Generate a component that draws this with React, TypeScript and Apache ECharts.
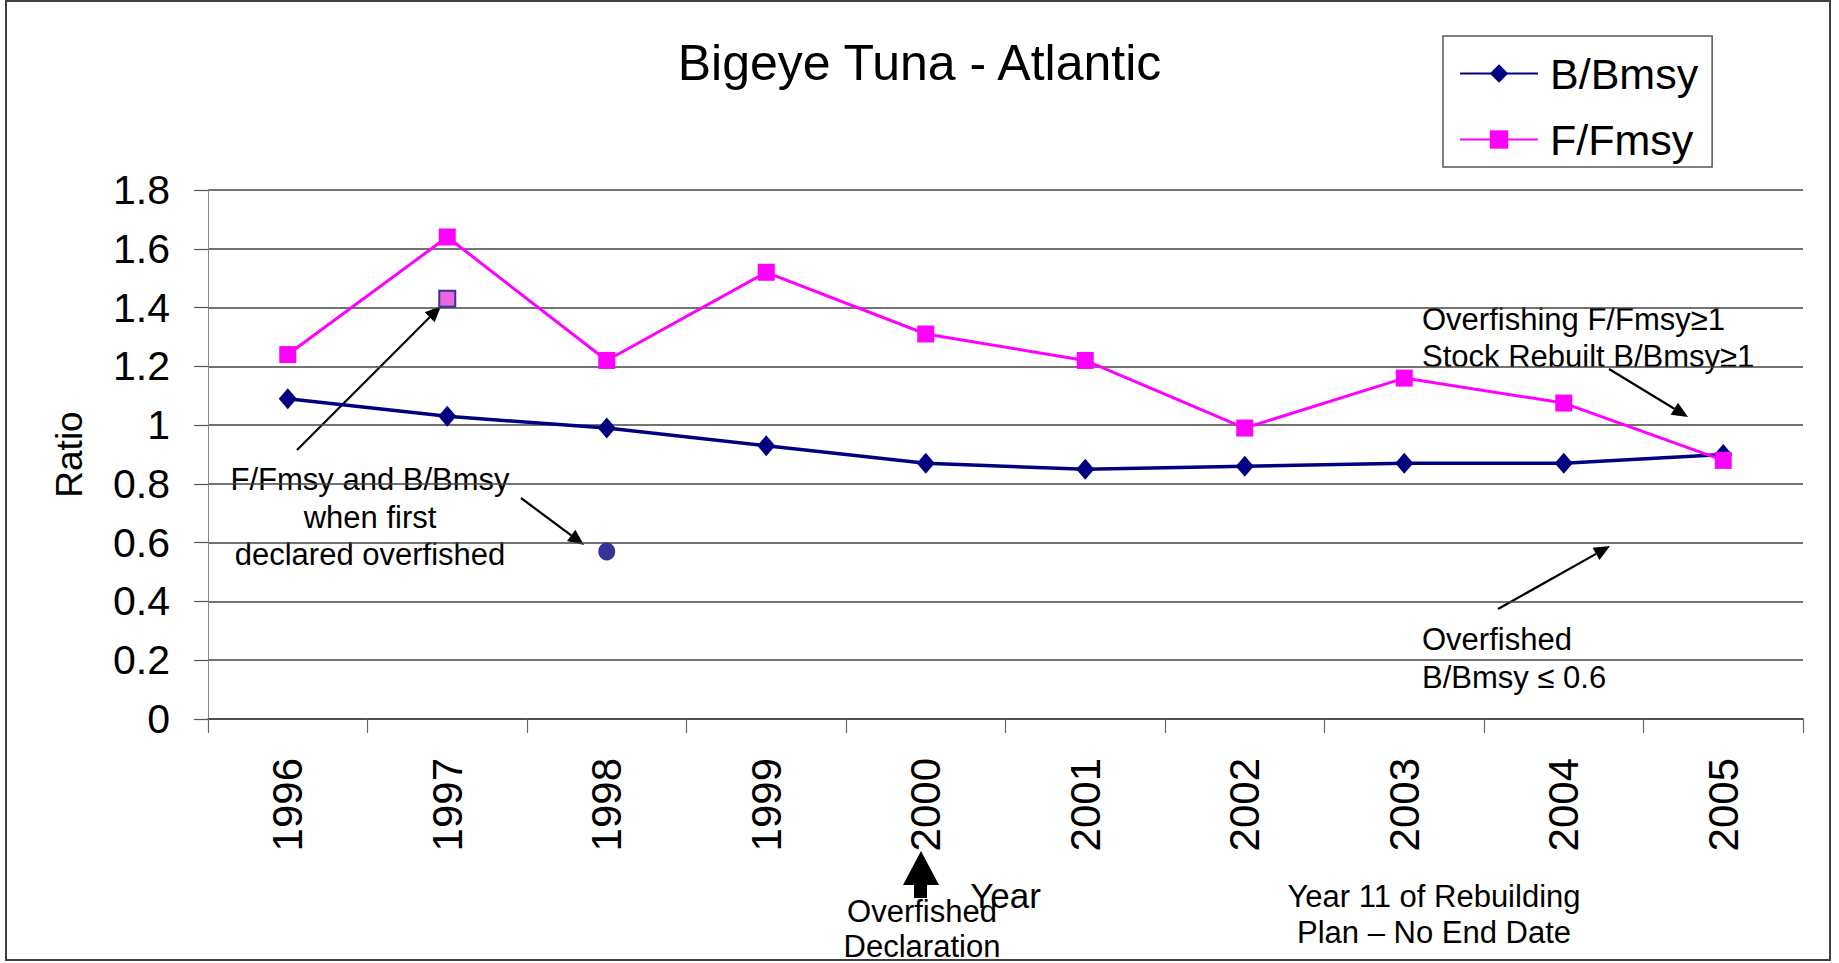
import React, { useEffect, useRef } from "react";
import * as echarts from "echarts";

const years = ["1996", "1997", "1998", "1999", "2000", "2001", "2002", "2003", "2004", "2005"];
const bBmsy = [1.09, 1.03, 0.99, 0.93, 0.87, 0.85, 0.86, 0.87, 0.87, 0.9];
const fFmsy = [1.24, 1.64, 1.22, 1.52, 1.31, 1.22, 0.99, 1.16, 1.075, 0.88];
const declaredF = [["1997", 1.43]];
const declaredB = [["1998", 0.57]];
const yTicks = { min: 0, max: 1.8, interval: 0.2 };

const FONT = "'Liberation Sans', Arial, Helvetica, sans-serif";

function txt(text: string, x: number, baseline: number, fs: number, align: string = "left") {
  return {
    type: "text",
    x,
    y: baseline - 0.35 * fs,
    style: { text, fontSize: fs, fontFamily: FONT, fill: "#000", align, verticalAlign: "middle" },
    silent: true,
  };
}

function arrow(x1: number, y1: number, x2: number, y2: number) {
  const dx = x2 - x1, dy = y2 - y1;
  const len = Math.sqrt(dx * dx + dy * dy);
  const ux = dx / len, uy = dy / len;
  const hl = 16, hw = 7;
  const bx = x2 - ux * hl, by = y2 - uy * hl;
  return [
    { type: "line", shape: { x1, y1, x2: bx, y2: by }, style: { stroke: "#000", lineWidth: 2.2 }, silent: true },
    {
      type: "polygon",
      shape: { points: [[x2, y2], [bx - uy * hw, by + ux * hw], [bx + uy * hw, by - ux * hw]] },
      style: { fill: "#000" },
      silent: true,
    },
  ];
}

export default function App() {
  const ref = useRef<HTMLDivElement>(null);
  useEffect(() => {
    if (!ref.current) return;
    const chart = echarts.init(ref.current, undefined, { renderer: "svg" });
    const ann = 31;
    chart.setOption({
      animation: false,
      backgroundColor: "#fff",
      title: {
        text: "Bigeye Tuna - Atlantic",
        left: "center",
        top: 38,
        padding: 0,
        textStyle: { fontSize: 50, fontWeight: "normal", fontFamily: FONT, color: "#000" },
      },
      legend: {
        data: ["B/Bmsy", "F/Fmsy"],
        orient: "vertical",
        left: 1443,
        top: 36,
        itemWidth: 78,
        itemHeight: 23,
        itemGap: 23,
        padding: [16, 14, 6, 16],
        borderColor: "#555",
        borderWidth: 1.5,
        textStyle: { fontSize: 43, fontFamily: FONT, color: "#000", padding: [0, 0, 0, 7] },
      },
      grid: { left: 208, right: 36, top: 190, bottom: 244, containLabel: false },
      xAxis: {
        type: "category",
        data: years,
        boundaryGap: true,
        name: "Year",
        nameLocation: "middle",
        nameGap: 159,
        nameTextStyle: { fontSize: 35, fontFamily: FONT, color: "#000" },
        axisLine: { show: true, lineStyle: { color: "#444", width: 1.5 } },
        axisTick: { show: true, length: 14, lineStyle: { color: "#666", width: 1.2 } },
        axisLabel: { rotate: 90, margin: 39, fontSize: 42, fontFamily: FONT, color: "#000" },
        splitLine: { show: false },
      },
      yAxis: {
        type: "value",
        min: yTicks.min,
        max: yTicks.max,
        interval: yTicks.interval,
        name: "Ratio",
        nameLocation: "middle",
        nameRotate: 90,
        nameGap: 120,
        nameTextStyle: { fontSize: 37, fontFamily: FONT, color: "#000" },
        axisLine: { show: true, lineStyle: { color: "#888", width: 1 } },
        axisTick: { show: true, length: 14, lineStyle: { color: "#555", width: 1.2 } },
        axisLabel: {
          margin: 38,
          fontSize: 41,
          fontFamily: FONT,
          color: "#000",
          formatter: (v: number) => String(Math.round(v * 10) / 10),
        },
        splitLine: { show: true, lineStyle: { color: "#444", width: 1.5 } },
      },
      series: [
        {
          name: "B/Bmsy",
          type: "line",
          data: bBmsy,
          symbol: "diamond",
          symbolSize: [18, 21],
          lineStyle: { color: "#000080", width: 3.5 },
          itemStyle: { color: "#000080" },
          z: 3,
        },
        {
          name: "F/Fmsy",
          type: "line",
          data: fFmsy,
          symbol: "rect",
          symbolSize: [17, 17],
          lineStyle: { color: "#FF00FF", width: 3 },
          itemStyle: { color: "#FF00FF" },
          z: 4,
        },
        {
          name: "F at declaration",
          type: "scatter",
          data: declaredF,
          symbol: "rect",
          symbolSize: 16,
          itemStyle: { color: "#EE66DD", borderColor: "#333399", borderWidth: 2, opacity: 1 },
          z: 5,
        },
        {
          name: "B at declaration",
          type: "scatter",
          data: declaredB,
          symbol: "circle",
          symbolSize: [17, 18],
          itemStyle: { color: "#333399", opacity: 1 },
          z: 5,
        },
      ],
      graphic: [
        {
          type: "rect",
          shape: { x: 6, y: 1, width: 1824, height: 959 },
          style: { fill: "none", stroke: "#404040", lineWidth: 2 },
          silent: true,
          z: -1,
        },
        txt("F/Fmsy and B/Bmsy", 370, 490, ann, "center"),
        txt("when first", 370, 528, ann, "center"),
        txt("declared overfished", 370, 565, ann, "center"),
        txt("Overfishing F/Fmsy\u22651", 1422, 330, ann),
        txt("Stock Rebuilt B/Bmsy\u22651", 1422, 367, ann),
        txt("Overfished", 1422, 650, ann),
        txt("B/Bmsy \u2264 0.6", 1422, 688, ann),
        txt("Overfished", 922, 922, ann, "center"),
        txt("Declaration", 922, 957, ann, "center"),
        txt("Year 11 of Rebuilding", 1434, 907, ann, "center"),
        txt("Plan \u2013 No End Date", 1434, 943, ann, "center"),
        ...arrow(297, 450, 441, 306),
        ...arrow(521, 498, 584, 545),
        ...arrow(1609, 369, 1688, 417),
        ...arrow(1498, 609, 1610, 546),
        {
          type: "polygon",
          shape: {
            points: [[921, 851], [903, 885], [914, 885], [914, 898], [927, 898], [927, 885], [939, 885]],
          },
          style: { fill: "#000" },
          silent: true,
        },
      ],
    });
    return () => chart.dispose();
  }, []);
  return (
    <div
      ref={ref}
      style={{ position: "absolute", left: 0, top: 0, width: 1839, height: 963, background: "#fff" }}
    />
  );
}
